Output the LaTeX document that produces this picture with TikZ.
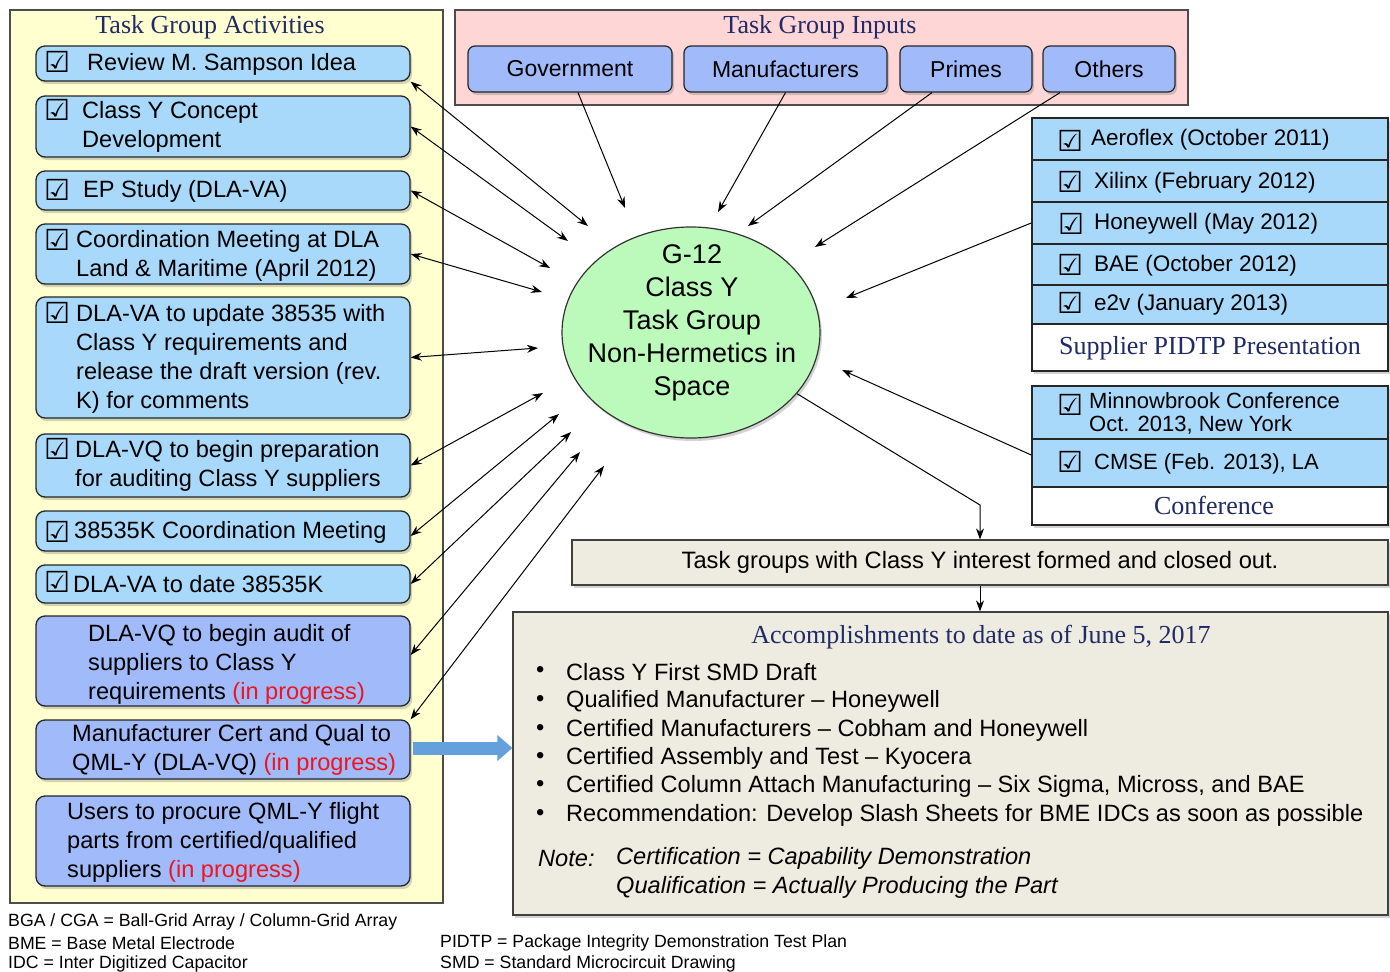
\documentclass[tikz,border=0pt]{standalone}
\usepackage{fontspec}
\setmainfont{Liberation Sans}
\newfontfamily\navyserif{Liberation Serif}
\newfontfamily\symfont{DejaVu Sans}
\usetikzlibrary{shapes.geometric,arrows.meta,shadows,calc}
\definecolor{lblue}{RGB}{168,216,250}
\definecolor{pblue}{RGB}{160,186,250}
\definecolor{ypanel}{RGB}{255,255,208}
\definecolor{ppanel}{RGB}{255,214,214}
\definecolor{egreen}{RGB}{188,250,188}
\definecolor{beige}{RGB}{238,236,225}
\definecolor{navy}{RGB}{32,42,102}
\definecolor{ipred}{RGB}{240,20,30}
\definecolor{arrowblue}{RGB}{100,160,220}
\newcommand{\fsBox}{\fontsize{23.6pt}{29pt}\selectfont}
\newcommand{\fsRow}{\fontsize{22.5pt}{23pt}\selectfont}
\newcommand{\fsIn}{\fontsize{23pt}{27pt}\selectfont}
\newcommand{\fsEll}{\fontsize{27pt}{33pt}\selectfont}
\newcommand{\fsAcc}{\fontsize{23.6pt}{28pt}\selectfont}
\newcommand{\fsFoot}{\fontsize{17.7pt}{21pt}\selectfont}
\newcommand{\fsTtl}{\navyserif\fontsize{26pt}{28pt}\selectfont}
\newcommand{\cbx}{{\symfont\bfseries ☑}}
\newcommand{\inprog}{\textcolor{ipred}{(in progress)}}
\begin{document}
\begin{tikzpicture}[x=1pt,y=-1pt,
  shd/.style={drop shadow={shadow xshift=2pt,shadow yshift=-3pt,opacity=0.35}},
  panelbox/.style={draw=black!70,line width=1.2pt,inner sep=0pt},
  actbox/.style={draw=black!85,line width=1.3pt,rounded corners=9pt,fill=lblue,minimum width=374pt,inner sep=0pt,shd},
  vqbox/.style={actbox,fill=pblue},
  inbox/.style={draw=black!85,line width=1.2pt,rounded corners=7pt,fill=pblue,minimum height=46pt,inner sep=0pt,font=\fsIn,shd},
  rowbox/.style={draw=black!85,line width=1.5pt,fill=lblue,minimum width=356pt,inner sep=0pt},
  txt/.style={anchor=west,inner sep=0pt,align=left,font=\fsBox},
  rtxt/.style={anchor=west,inner sep=0pt,align=left,font=\fsRow},
  chk/.style={inner sep=0pt,font=\fontsize{29pt}{30pt}\selectfont},
  ttl/.style={inner sep=0pt,font=\fsTtl,text=navy},
  link/.style={draw=black,line width=1pt,-{Stealth[length=11pt,width=8pt]}},
  dlink/.style={link,{Stealth[length=11pt,width=8pt]}-{Stealth[length=11pt,width=8pt]}},
  foot/.style={anchor=west,inner sep=0pt,font=\fsFoot},
  acc/.style={anchor=west,inner sep=0pt,font=\fsAcc},
  blockarrow/.style={draw=arrowblue,line width=13pt,-{Triangle[length=15pt,width=25pt]}}
]
\useasboundingbox (0,0) rectangle (1390,972);

% ---------- Task Group Activities panel ----------
\node[panelbox,fill=ypanel,minimum width=433pt,minimum height=893pt] (ActPanel) at (226.5,456.5) {};
\node[ttl] (ActTitle) at (210,27.5) {Task Group Activities};

\node[actbox,minimum height=35pt] (L1) at (223,63.5) {};
\node[actbox,minimum height=61pt] (L2) at (223,126.5) {};
\node[actbox,minimum height=39pt] (L3) at (223,190.5) {};
\node[actbox,minimum height=60pt] (L4) at (223,254) {};
\node[actbox,minimum height=121pt] (L5) at (223,357.5) {};
\node[actbox,minimum height=63pt] (L6) at (223,465.5) {};
\node[actbox,minimum height=40pt] (L7) at (223,531) {};
\node[actbox,minimum height=38pt] (L8) at (223,584) {};
\node[vqbox,minimum height=90pt] (L9) at (223,661) {};
\node[vqbox,minimum height=59pt] (L10) at (223,749.5) {};
\node[vqbox,minimum height=90pt] (L11) at (223,841) {};

\node[txt] (T1) at (87,64) {Review M. Sampson Idea};
\node[txt] (T2) at (82,126.5) {Class Y Concept\\Development};
\node[txt] (T3) at (83,191) {EP Study (DLA-VA)};
\node[txt] (T4) at (76,255.5) {Coordination Meeting at DLA\\Land \& Maritime (April 2012)};
\node[txt] (T5) at (76,359) {DLA-VA to update 38535 with\\Class Y requirements and\\release the draft version (rev.\\K) for comments};
\node[txt] (T6) at (75,466) {DLA-VQ to begin preparation\\for auditing Class Y suppliers};
\node[txt] (T7) at (74,532) {38535K Coordination Meeting};
\node[txt] (T8) at (73,584) {DLA-VA to date 38535K};
\node[txt] (T9) at (88,664) {DLA-VQ to begin audit of\\suppliers to Class Y\\requirements \inprog};
\node[txt] (T10) at (72,749.5) {Manufacturer Cert and Qual to\\QML-Y (DLA-VQ) \inprog};
\node[txt] (T11) at (67,842.5) {Users to procure QML-Y flight\\parts from certified/qualified\\suppliers \inprog};

\node[chk] (C1) at (57,62) {\cbx};
\node[chk] (C2) at (57,110) {\cbx};
\node[chk] (C3) at (57,190) {\cbx};
\node[chk] (C4) at (57,240) {\cbx};
\node[chk] (C5) at (57,313) {\cbx};
\node[chk] (C6) at (57,449) {\cbx};
\node[chk] (C7) at (57,532) {\cbx};
\node[chk] (C8) at (57,582) {\cbx};

% ---------- Task Group Inputs panel ----------
\node[panelbox,fill=ppanel,minimum width=733pt,minimum height=95pt] (InPanel) at (821.5,57.5) {};
\node[ttl] (InTitle) at (820,27.5) {Task Group Inputs};
\node[inbox,minimum width=204pt] (Gov) at (570,69) {Government};
\node[inbox,minimum width=203pt] (Man) at (785.5,69) {Manufacturers};
\node[inbox,minimum width=132pt] (Pri) at (966,69) {Primes};
\node[inbox,minimum width=132pt] (Oth) at (1109,69) {Others};

% ---------- central ellipse ----------
\node[ellipse,draw=black!80,line width=1.2pt,fill=egreen,minimum width=258pt,minimum height=211pt,shd] (G12) at (691,332.5) {};
\node[inner sep=0pt,align=center,font=\fsEll] (G12txt) at (692,323) {G-12\\Class Y\\Task Group\\Non-Hermetics in\\Space};

% ---------- Supplier PIDTP panel ----------
\node[panelbox,minimum width=356pt,minimum height=253pt,fill=white,shd] (SupPanel) at (1210,244.5) {};
\node[rowbox,minimum height=42pt] (Aero) at (1210,139) {};
\node[rowbox,minimum height=42pt] (Xil) at (1210,181) {};
\node[rowbox,minimum height=42pt] (Hon) at (1210,223) {};
\node[rowbox,minimum height=41pt] (BAE) at (1210,264.5) {};
\node[rowbox,minimum height=39pt] (E2v) at (1210,304.5) {};
\node[rowbox,minimum height=47pt,fill=white] (SupLbl) at (1210,347.5) {};
\node[rtxt] (RA) at (1091,140) {Aeroflex (October 2011)};
\node[rtxt] (RB) at (1094,183) {Xilinx (February 2012)};
\node[rtxt] (RC) at (1094,224) {Honeywell (May 2012)};
\node[rtxt] (RD) at (1094,266) {BAE (October 2012)};
\node[rtxt] (RE) at (1094,305) {e2v (January 2013)};
\node[ttl] (SupTitle) at (1210,348) {Supplier PIDTP Presentation};
\node[chk] (CA) at (1070,141) {\cbx};
\node[chk] (CB) at (1070,182) {\cbx};
\node[chk] (CC) at (1071,224) {\cbx};
\node[chk] (CD) at (1070,265) {\cbx};
\node[chk] (CE) at (1070,303) {\cbx};

% ---------- Conference panel ----------
\node[panelbox,minimum width=356pt,minimum height=139pt,fill=white,shd] (ConfPanel) at (1210,455.5) {};
\node[rowbox,minimum height=53pt] (Minn) at (1210,412.5) {};
\node[rowbox,minimum height=48pt] (CMSE) at (1210,463) {};
\node[rowbox,minimum height=38pt,fill=white] (ConfLbl) at (1210,506) {};
\node[rtxt,font=\fontsize{22pt}{23pt}\selectfont] (RM) at (1089,413.5) {Minnowbrook Conference\\Oct. 2013, New York};
\node[rtxt,font=\fontsize{22pt}{23pt}\selectfont] (RCm) at (1094,464) {CMSE (Feb. 2013), LA};
\node[ttl] (ConfTitle) at (1214,505) {Conference};
\node[chk] (CM) at (1070,405) {\cbx};
\node[chk] (CN) at (1070,462) {\cbx};

% ---------- Task groups + Accomplishments ----------
\node[draw=black!75,line width=1.2pt,fill=beige,minimum width=816pt,minimum height=45pt,inner sep=0pt,font=\fontsize{23.7pt}{26pt}\selectfont,shd] (TG) at (980,562.5) {Task groups with Class Y interest formed and closed out.};
\node[draw=black!75,line width=1.2pt,fill=beige,minimum width=875pt,minimum height=303pt,inner sep=0pt,shd] (Acc) at (950.5,763.5) {};
\node[ttl] (AccTitle) at (981,637) {Accomplishments to date as of June 5, 2017};
\foreach \i/\yy/\tt in {1/672/{Class Y First SMD Draft},
  2/701/{Qualified Manufacturer – Honeywell},
  3/730/{Certified Manufacturers – Cobham and Honeywell},
  4/758/{Certified Assembly and Test – Kyocera},
  5/786/{Certified Column Attach Manufacturing – Six Sigma, Micross, and BAE},
  6/815/{Recommendation: Develop Slash Sheets for BME IDCs as soon as possible}}{
  \node[acc] (bul\i) at (536,\yy) {\textbullet};
  \node[acc] (acc\i) at (566,\yy) {\tt};
}
\node[acc,font=\fsAcc\itshape] (NoteA) at (538,858) {Note:};
\node[acc,font=\fsAcc\itshape] (NoteB) at (616,858) {Certification = Capability Demonstration};
\node[acc,font=\fsAcc\itshape] (NoteC) at (616,887) {Qualification = Actually Producing the Part};

% ---------- footnotes ----------
\node[foot] (F1) at (8,922) {BGA / CGA = Ball-Grid Array / Column-Grid Array};
\node[foot] (F2) at (8,943) {BME = Base Metal Electrode};
\node[foot] (F3) at (8,964) {IDC = Inter Digitized Capacitor};
\node[foot] (F4) at (440,943) {PIDTP = Package Integrity Demonstration Test Plan};
\node[foot] (F5) at (440,964) {SMD = Standard Microcircuit Drawing};

% ---------- connector end points near the ellipse ----------
\coordinate (e1) at (588,226);
\coordinate (e2) at (568,241);
\coordinate (e3) at (550,268);
\coordinate (e4) at (542,292);
\coordinate (e5) at (538,348);
\coordinate (e6) at (543,393);
\coordinate (e7) at (559,414);
\coordinate (e8) at (571,432);
\coordinate (e9) at (580,452);
\coordinate (e10) at (604,466);
\coordinate (g1) at (625,208);
\coordinate (g2) at (718,212);
\coordinate (g3) at (748,226);
\coordinate (g4) at (815,247);
\coordinate (g5) at (846,298);
\coordinate (g6) at (842,370);
\coordinate (BendTG) at (980,505);

% ---------- connectors ----------
\draw[dlink] (L1.south east) -- (e1);
\draw[dlink] (L2.east) -- (e2);
\draw[dlink] (L3.east) -- (e3);
\draw[dlink] (L4.east) -- (e4);
\draw[dlink] (L5.east) -- (e5);
\draw[dlink] (L6.east) -- (e6);
\draw[dlink] ([yshift=-5pt]L7.east) -- (e7);
\draw[dlink] (L8.east) -- (e8);
\draw[dlink] ([yshift=6pt]L9.east) -- (e9);
\draw[dlink] (L10.north east) -- (e10);
\draw[link] ([xshift=8pt]Gov.south) -- (g1);
\draw[link] (Man.south) -- (g2);
\draw[link] ([xshift=-34pt]Pri.south) -- (g3);
\draw[link] ([xshift=-49pt]Oth.south) -- (g4);
\draw[link] (Hon.west) -- (g5);
\draw[link] ([yshift=8pt]CMSE.west) -- (g6);
\draw[link] (G12.-30) -- (BendTG) -- (TG.north);
\draw[link] (TG.south) -- (TG.south |- Acc.north);
\draw[blockarrow] ([xshift=2pt,yshift=1.5pt]L10.east) -- ([yshift=1.5pt]L10.east -| Acc.west);
\end{tikzpicture}
\end{document}
